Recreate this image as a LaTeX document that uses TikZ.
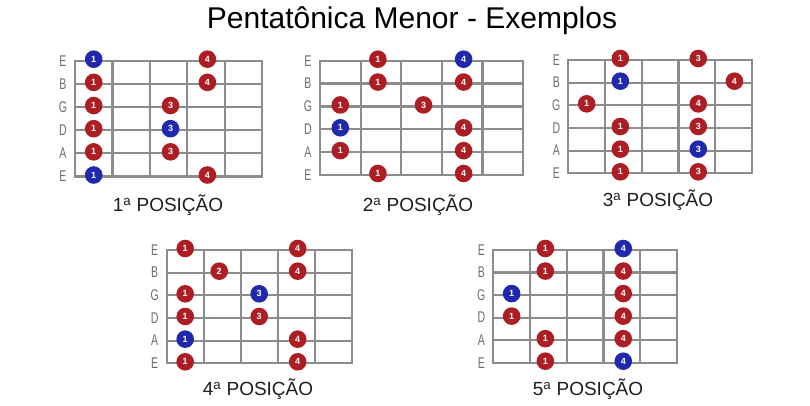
\documentclass[tikz,border=0pt]{standalone}
\usepackage{fontspec}
\setmainfont{Liberation Sans}
\newfontfamily\labfont[FakeStretch=0.68]{Liberation Sans}
\definecolor{gridgray}{RGB}{140,140,140}
\definecolor{labgray}{RGB}{110,110,110}
\definecolor{dotred}{RGB}{172,30,36}
\definecolor{dotblue}{RGB}{32,40,172}
\definecolor{captxt}{RGB}{30,30,30}
\tikzset{
  gridline/.style={draw=gridgray, line width=2.2pt, line cap=rect},
  strlab/.style={font=\labfont\fontsize{15.5}{15.5}\selectfont, text=labgray, inner sep=0pt, xshift=-12pt},
  rd/.style={circle, fill=dotred, text=white, minimum size=17.6pt, inner sep=0pt, yshift=1.5pt, font=\bfseries\fontsize{9}{9}\selectfont},
  bd/.style={rd, fill=dotblue},
  k2/.style={xshift=-3pt},
  k3/.style={xshift=2pt},
  k4/.style={xshift=1.5pt},
  k5/.style={xshift=1pt},
  caption/.style={font=\fontsize{19}{19}\selectfont, text=captxt, inner sep=0pt},
}
\newcommand\fretgrid{%
  \foreach \i in {0,...,5} {
    \draw[gridline] (\i,0) -- (\i,5);
    \draw[gridline] (0,\i) -- (5,\i);
  }
  \node[strlab] at (0,0) {E};
  \node[strlab] at (0,1) {B};
  \node[strlab] at (0,2) {G};
  \node[strlab] at (0,3) {D};
  \node[strlab] at (0,4) {A};
  \node[strlab] at (0,5) {E};
}
\begin{document}
\begin{tikzpicture}[x=1pt,y=-1pt]
\useasboundingbox[fill=white] (0,0) rectangle (810,405);
\node[font=\fontsize{30}{30}\selectfont, inner sep=0pt] (title) at (412,21) {Pentatônica Menor - Exemplos};

% Board 1
\begin{scope}[shift={(75,60.7)}, x=37.4pt, y=-23.16pt]
  \fretgrid
  \node[bd] (a00) at (0.5,0) {1}; \node[rd,k4] (a01) at (3.5,0) {4};
  \node[rd] (a10) at (0.5,1) {1}; \node[rd,k4] (a11) at (3.5,1) {4};
  \node[rd] (a20) at (0.5,2) {1}; \node[rd,k3] (a21) at (2.5,2) {3};
  \node[rd] (a30) at (0.5,3) {1}; \node[bd,k3] (a31) at (2.5,3) {3};
  \node[rd] (a40) at (0.5,4) {1}; \node[rd,k3] (a41) at (2.5,4) {3};
  \node[bd] (a50) at (0.5,5) {1}; \node[rd,k4] (a51) at (3.5,5) {4};
\end{scope}
\node[caption] (c1) at (168,205) {1\textsuperscript{a} POSIÇÃO};

% Board 2
\begin{scope}[shift={(320,60.7)}, x=40.6pt, y=-22.86pt]
  \fretgrid
  \node[rd,k2] (b00) at (1.5,0) {1}; \node[bd,k4] (b01) at (3.5,0) {4};
  \node[rd,k2] (b10) at (1.5,1) {1}; \node[rd,k4] (b11) at (3.5,1) {4};
  \node[rd] (b20) at (0.5,2) {1}; \node[rd,k3] (b21) at (2.5,2) {3};
  \node[bd] (b30) at (0.5,3) {1}; \node[rd,k4] (b31) at (3.5,3) {4};
  \node[rd] (b40) at (0.5,4) {1}; \node[rd,k4] (b41) at (3.5,4) {4};
  \node[rd,k2] (b50) at (1.5,5) {1}; \node[rd,k4] (b51) at (3.5,5) {4};
\end{scope}
\node[caption] (c2) at (418,205) {2\textsuperscript{a} POSIÇÃO};

% Board 3
\begin{scope}[shift={(568.3,60)}, x=36.7pt, y=-22.66pt]
  \fretgrid
  \node[rd,k2] (d00) at (1.5,0) {1}; \node[rd,k4] (d01) at (3.5,0) {3};
  \node[bd,k2] (d10) at (1.5,1) {1}; \node[rd,k5] (d11) at (4.5,1) {4};
  \node[rd] (d20) at (0.5,2) {1}; \node[rd,k4] (d21) at (3.5,2) {4};
  \node[rd,k2] (d30) at (1.5,3) {1}; \node[rd,k4] (d31) at (3.5,3) {3};
  \node[rd,k2] (d40) at (1.5,4) {1}; \node[bd,k4] (d41) at (3.5,4) {3};
  \node[rd,k2] (d50) at (1.5,5) {1}; \node[rd,k4] (d51) at (3.5,5) {3};
\end{scope}
\node[caption] (c3) at (658,200) {3\textsuperscript{a} POSIÇÃO};

% Board 4
\begin{scope}[shift={(166.7,250)}, x=37pt, y=-22.66pt]
  \fretgrid
  \node[rd] (e00) at (0.5,0) {1}; \node[rd,k4] (e01) at (3.5,0) {4};
  \node[rd,k2] (e10) at (1.5,1) {2}; \node[rd,k4] (e11) at (3.5,1) {4};
  \node[rd] (e20) at (0.5,2) {1}; \node[bd] (e21) at (2.5,2) {3};
  \node[rd] (e30) at (0.5,3) {1}; \node[rd] (e31) at (2.5,3) {3};
  \node[bd] (e40) at (0.5,4) {1}; \node[rd,k4] (e41) at (3.5,4) {4};
  \node[rd] (e50) at (0.5,5) {1}; \node[rd,k4] (e51) at (3.5,5) {4};
\end{scope}
\node[caption] (c4) at (258,389) {4\textsuperscript{a} POSIÇÃO};

% Board 5
\begin{scope}[shift={(493.3,250)}, x=36.7pt, y=-22.54pt]
  \fretgrid
  \node[rd,k2] (f00) at (1.5,0) {1}; \node[bd,k4] (f01) at (3.5,0) {4};
  \node[rd,k2] (f10) at (1.5,1) {1}; \node[rd,k4] (f11) at (3.5,1) {4};
  \node[bd] (f20) at (0.5,2) {1}; \node[rd,k4] (f21) at (3.5,2) {4};
  \node[rd] (f30) at (0.5,3) {1}; \node[rd,k4] (f31) at (3.5,3) {4};
  \node[rd,k2] (f40) at (1.5,4) {1}; \node[rd,k4] (f41) at (3.5,4) {4};
  \node[rd,k2] (f50) at (1.5,5) {1}; \node[bd,k4] (f51) at (3.5,5) {4};
\end{scope}
\node[caption] (c5) at (588,389) {5\textsuperscript{a} POSIÇÃO};
\end{tikzpicture}
\end{document}
